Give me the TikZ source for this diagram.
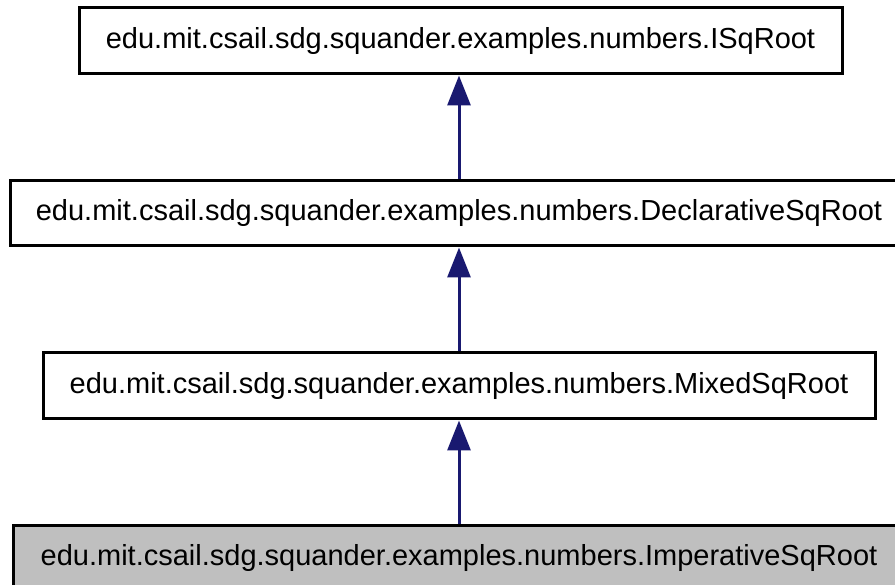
\documentclass[tikz,border=0pt]{standalone}
\usepackage{fontspec}
\setmainfont{Liberation Sans}
\usetikzlibrary{arrows.meta}
\definecolor{edgeblue}{HTML}{191970}
\definecolor{boxgray}{HTML}{BFBFBF}
\begin{document}
\begin{tikzpicture}[x=1pt,y=-1pt,
  cls/.style={draw=black,line width=3pt,rectangle,inner sep=0pt,font=\fontsize{29}{34}\selectfont},
  inh/.style={draw=edgeblue,line width=3pt,-{Triangle[length=30pt,width=23pt]},color=edgeblue}]
\useasboundingbox (0,0) rectangle (895,585);
\node[cls,minimum width=763pt,minimum height=66pt] (b1) at (460.5,41) {edu.mit.csail.sdg.squander.examples.numbers.ISqRoot};
\node[cls,minimum width=898pt,minimum height=65pt] (b2) at (459,213.5) {edu.mit.csail.sdg.squander.examples.numbers.DeclarativeSqRoot};
\node[cls,minimum width=832pt,minimum height=66pt] (b3) at (459,386) {edu.mit.csail.sdg.squander.examples.numbers.MixedSqRoot};
\node[cls,fill=boxgray,minimum width=892pt,minimum height=66pt] (b4) at (459,558) {edu.mit.csail.sdg.squander.examples.numbers.ImperativeSqRoot};
\draw[inh] (b2.north) -- (b2.north |- b1.south);
\draw[inh] (b3.north) -- (b3.north |- b2.south);
\draw[inh] (b4.north) -- (b4.north |- b3.south);
\end{tikzpicture}
\end{document}
